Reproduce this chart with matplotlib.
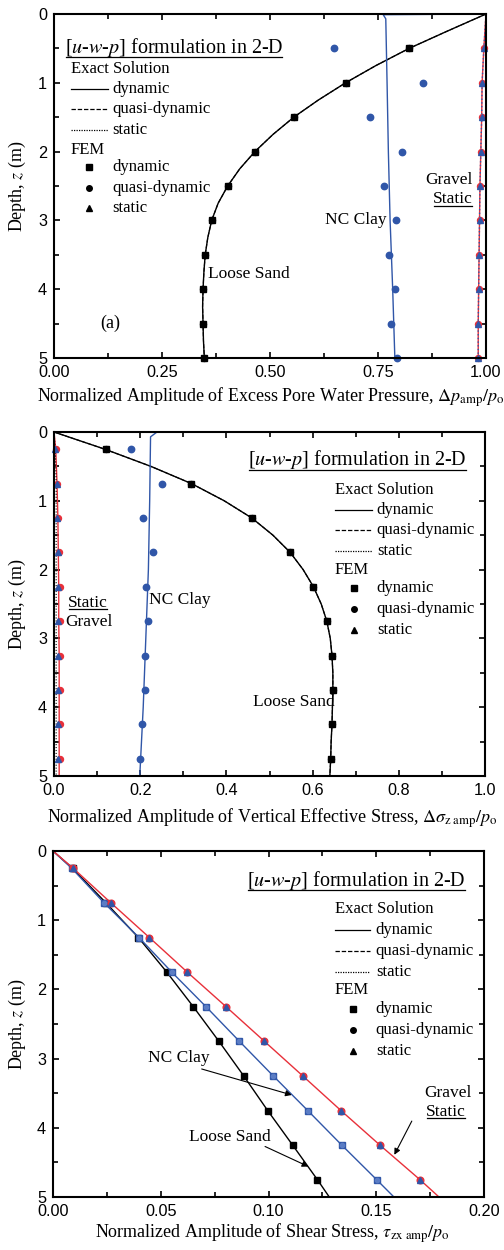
import matplotlib
matplotlib.use("Agg")
import matplotlib.pyplot as plt
from matplotlib.ticker import MultipleLocator, FixedLocator
from matplotlib.lines import Line2D
from matplotlib.transforms import IdentityTransform

plt.rcParams['font.family'] = ['Liberation Serif', 'DejaVu Serif']
plt.rcParams['mathtext.fontset'] = 'stix'

BLUE = '#3056a8'
RED = '#e8303a'
SERIF = ['Liberation Serif', 'DejaVu Serif']
SANS = ['Liberation Sans', 'DejaVu Sans']

# ---------------- Panel (a): excess pore water pressure ----------------
pw_fem_z = [0.5, 1.0, 1.5, 2.0, 2.5, 3.0, 3.5, 4.0, 4.5, 5.0]
pw_sand_fem = [0.822, 0.675, 0.555, 0.465, 0.402, 0.365, 0.350, 0.345, 0.345, 0.348]
pw_clay_fem = [0.647, 0.855, 0.731, 0.806, 0.764, 0.791, 0.775, 0.789, 0.780, 0.795]
pw_gravel_fem = [0.995, 0.991, 0.990, 0.988, 0.986, 0.985, 0.984, 0.983, 0.982, 0.982]

pw_sand_z = [0, 0.25, 0.5, 0.75, 1.0, 1.25, 1.5, 1.75, 2.0, 2.25, 2.5, 2.75, 3.0,
             3.25, 3.5, 3.75, 4.0, 4.25, 4.5, 4.75, 5.0]
pw_sand_exact = [1.0, 0.91, 0.822, 0.745, 0.675, 0.612, 0.555, 0.507, 0.465, 0.430,
                 0.402, 0.380, 0.365, 0.356, 0.350, 0.347, 0.345, 0.344, 0.345, 0.346, 0.348]
pw_clay_z = [0, 0.01, 0.07, 1.0, 2.0, 3.0, 4.0, 5.0]
pw_clay_exact = [1.0, 0.762, 0.768, 0.771, 0.774, 0.778, 0.784, 0.789]
pw_gravel_z = [0, 0.5, 1.0, 1.5, 2.0, 2.5, 3.0, 3.5, 4.0, 4.5, 5.0]
pw_gravel_exact = [1.0, 0.995, 0.991, 0.990, 0.988, 0.986, 0.985, 0.984, 0.983, 0.982, 0.982]
pw_ticks = [0.0, 0.25, 0.5, 0.75, 1.0]
pw_ticklabels = ['0.00', '0.25', '0.50', '0.75', '1.00']

# ---------------- Panel (b): vertical effective stress ----------------
vs_fem_z = [0.25, 0.75, 1.25, 1.75, 2.25, 2.75, 3.25, 3.75, 4.25, 4.75]
vs_sand_fem = [0.121, 0.319, 0.459, 0.548, 0.602, 0.633, 0.644, 0.647, 0.645, 0.642]
vs_clay_fem = [0.178, 0.250, 0.206, 0.229, 0.213, 0.219, 0.211, 0.210, 0.205, 0.1995]
vs_gravel_fem_circ = [0.004, 0.007, 0.010, 0.012, 0.013, 0.013, 0.014, 0.014, 0.014, 0.014]
vs_gravel_fem_tri = [0.003, 0.006, 0.008, 0.009, 0.009, 0.009, 0.009, 0.009, 0.009, 0.009]

vs_sand_z = [0, 0.25, 0.5, 0.75, 1.0, 1.25, 1.5, 1.75, 2.0, 2.25, 2.5, 2.75, 3.0,
             3.25, 3.5, 3.75, 4.0, 4.25, 4.5, 4.75, 5.0]
vs_sand_exact = [0.0, 0.118, 0.225, 0.319, 0.395, 0.459, 0.508, 0.548, 0.578, 0.602,
                 0.620, 0.633, 0.641, 0.645, 0.647, 0.647, 0.646, 0.645, 0.643, 0.642, 0.640]
vs_clay_z = [0, 0.005, 0.07, 1.0, 2.0, 3.0, 4.0, 5.0]
vs_clay_exact = [0.0, 0.238, 0.224, 0.222, 0.219, 0.213, 0.207, 0.199]
vs_gravel_z = [0, 0.25, 0.75, 1.25, 1.75, 2.25, 2.75, 3.25, 3.75, 4.25, 4.75, 5.0]
vs_gravel_exact = [0.0, 0.004, 0.007, 0.009, 0.010, 0.011, 0.011, 0.012, 0.012, 0.012, 0.012, 0.012]
vs_gravel_static = [0.0, 0.003, 0.005, 0.005, 0.005, 0.005, 0.005, 0.005, 0.005, 0.005, 0.005, 0.005]
vs_ticks = [0.0, 0.2, 0.4, 0.6, 0.8, 1.0]
vs_ticklabels = ['0.0', '0.2', '0.4', '0.6', '0.8', '1.0']

# ---------------- Panel (c): shear stress ----------------
ss_fem_z = [0.25, 0.75, 1.25, 1.75, 2.25, 2.75, 3.25, 3.75, 4.25, 4.75]
ss_sand_fem = [0.0091, 0.0246, 0.0396, 0.0528, 0.0651, 0.0770, 0.0885, 0.0996, 0.1112, 0.1227]
ss_clay_fem = [0.0087, 0.0237, 0.0399, 0.0551, 0.0710, 0.0865, 0.1022, 0.1182, 0.1340, 0.1502]
ss_gravel_fem = [0.0094, 0.0269, 0.0447, 0.0623, 0.0803, 0.0981, 0.1159, 0.1336, 0.1517, 0.1703]

ss_line_z = [0, 0.25, 0.75, 1.25, 1.75, 2.25, 2.75, 3.25, 3.75, 4.25, 4.75, 5.0]
ss_sand_exact = [0.0, 0.0091, 0.0246, 0.0396, 0.0528, 0.0651, 0.0770, 0.0885, 0.0996, 0.1112, 0.1227, 0.1282]
ss_clay_exact = [0.0, 0.0087, 0.0237, 0.0399, 0.0551, 0.0710, 0.0865, 0.1022, 0.1182, 0.1340, 0.1502, 0.1582]
ss_gravel_exact = [0.0, 0.0094, 0.0269, 0.0447, 0.0623, 0.0803, 0.0981, 0.1159, 0.1336, 0.1517, 0.1703, 0.1791]
ss_ticks = [0.0, 0.05, 0.10, 0.15, 0.20]
ss_ticklabels = ['0.00', '0.05', '0.10', '0.15', '0.20']

depth_ticks = [0, 1, 2, 3, 4, 5]
depth_ticklabels = ['0', '1', '2', '3', '4', '5']

W, H = 504, 1250
fig = plt.figure(figsize=(W / 100, H / 100), dpi=100)


def add_axes_px(x0, y0, x1, y1):
    return fig.add_axes([x0 / W, 1 - y1 / H, (x1 - x0) / W, (y1 - y0) / H])


ax1 = add_axes_px(54, 14, 486, 358)
ax2 = add_axes_px(54, 432, 485, 776)
ax3 = add_axes_px(53, 851, 484, 1197)

MS = 4.3
LW = 1.0

# panel a
ax = ax1
ax.plot(pw_sand_exact, pw_sand_z, '-', color='k', lw=LW)
ax.plot(pw_sand_exact, pw_sand_z, '--', color='k', lw=LW * 0.8)
ax.plot(pw_sand_fem, pw_fem_z, 'o', color='k', ms=MS, ls='none', clip_on=False)
ax.plot(pw_sand_fem, pw_fem_z, 's', color='k', ms=MS, ls='none', clip_on=False)
ax.plot(pw_clay_exact, pw_clay_z, '-', color=BLUE, lw=LW)
ax.plot(pw_clay_fem, pw_fem_z, 'o', color=BLUE, ms=MS + 0.3, ls='none', clip_on=False)
ax.plot(pw_gravel_exact, pw_gravel_z, '-', color=RED, lw=LW)
ax.plot(pw_gravel_exact, pw_gravel_z, ':', color=BLUE, lw=LW)
ax.plot(pw_gravel_fem, pw_fem_z, 'o', color=RED, ms=MS, ls='none', clip_on=False)
ax.plot(pw_gravel_fem, pw_fem_z, '^', color=BLUE, ms=MS, ls='none', clip_on=False)
ax.set_xlim(0, 1)
ax.set_xticks(pw_ticks)
ax.set_xticklabels(pw_ticklabels)
ax.xaxis.set_minor_locator(MultipleLocator(0.125))

# panel b
ax = ax2
ax.plot(vs_sand_exact, vs_sand_z, '-', color='k', lw=LW)
ax.plot(vs_sand_exact, vs_sand_z, '--', color='k', lw=LW * 0.8)
ax.plot(vs_sand_fem, vs_fem_z, 'o', color='k', ms=MS, ls='none')
ax.plot(vs_sand_fem, vs_fem_z, 's', color='k', ms=MS, ls='none')
ax.plot(vs_clay_exact, vs_clay_z, '-', color=BLUE, lw=LW)
ax.plot(vs_clay_fem, vs_fem_z, 'o', color=BLUE, ms=MS + 0.3, ls='none')
ax.plot(vs_gravel_exact, vs_gravel_z, '-', color=RED, lw=LW)
ax.plot(vs_gravel_static, vs_gravel_z, ':', color='k', lw=LW * 0.8)
ax.plot(vs_gravel_fem_circ, vs_fem_z, 'o', color=RED, ms=MS, ls='none', clip_on=False)
ax.plot(vs_gravel_fem_tri, vs_fem_z, '^', color=BLUE, ms=MS, ls='none', clip_on=False)
ax.set_xlim(0, 1)
ax.set_xticks(vs_ticks)
ax.set_xticklabels(vs_ticklabels)
ax.xaxis.set_minor_locator(MultipleLocator(0.1))

# panel c
ax = ax3
ax.plot(ss_sand_exact, ss_line_z, '-', color='k', lw=LW)
ax.plot(ss_sand_fem, ss_fem_z, 's', color='k', ms=MS, ls='none')
ax.plot(ss_clay_exact, ss_line_z, '-', color=BLUE, lw=LW)
ax.plot(ss_clay_fem, ss_fem_z, 's', color=BLUE, ms=MS + 0.3, ls='none')
ax.plot(ss_clay_fem, ss_fem_z, 'o', color='#5a7cc4', ms=MS - 1.2, ls='none')
ax.plot(ss_gravel_exact, ss_line_z, '-', color=RED, lw=LW)
ax.plot(ss_gravel_fem, ss_fem_z, 'o', color=RED, ms=MS + 0.5, ls='none')
ax.plot(ss_gravel_fem, ss_fem_z, '^', color=BLUE, ms=MS - 0.3, ls='none')
ax.set_xlim(0, 0.2)
ax.set_xticks(ss_ticks)
ax.set_xticklabels(ss_ticklabels)
ax.xaxis.set_minor_locator(MultipleLocator(0.025))

for ax in (ax1, ax2, ax3):
    ax.set_ylim(5, 0)
    ax.set_yticks(depth_ticks)
    ax.set_yticklabels(depth_ticklabels)
    ax.yaxis.set_minor_locator(MultipleLocator(0.5))
    ax.tick_params(which='both', direction='in', top=True, right=True, width=1.2,
                   labelsize=11.7, pad=5)
    ax.tick_params(which='major', length=4.5)
    ax.tick_params(which='minor', length=3.8)
    for lab in ax.get_xticklabels() + ax.get_yticklabels():
        lab.set_fontfamily(SANS)
    for s in ax.spines.values():
        s.set_linewidth(1.5)

TITLE = r'[$\mathit{u}$-$\mathit{w}$-$\mathit{p}$] formulation in 2-D'
underlined = []


def legend_block(ax, tx, ty, ex, line_x0, line_x1, text_x, line_ys, fem_y, mark_x, mark_ys):
    t = ax.text(tx, ty, TITLE, transform=ax.transAxes, fontsize=14.5, va='center', ha='left')
    underlined.append(t)
    ax.text(ex, line_ys[0] + (line_ys[0] - line_ys[1]), 'Exact Solution', transform=ax.transAxes,
            fontsize=12, va='center', ha='left')
    for ls, yy, lab in zip(['-', (0, (3.5, 1.5)), (0, (1, 1))], line_ys,
                           ['dynamic', 'quasi-dynamic', 'static']):
        ax.add_line(Line2D([line_x0, line_x1], [yy, yy], transform=ax.transAxes,
                           color='k', lw=0.9, ls=ls))
        ax.text(text_x, yy, lab, transform=ax.transAxes, fontsize=12, va='center', ha='left')
    ax.text(ex, fem_y, 'FEM', transform=ax.transAxes, fontsize=12, va='center', ha='left')
    for mk, yy, lab in zip(['s', 'o', '^'], mark_ys, ['dynamic', 'quasi-dynamic', 'static']):
        ax.plot([mark_x], [yy], mk, color='k', ms=4, transform=ax.transAxes)
        ax.text(text_x, yy, lab, transform=ax.transAxes, fontsize=12, va='center', ha='left')


legend_block(ax1, 0.025, 0.904, 0.039, 0.039, 0.125, 0.134,
             [0.782, 0.724, 0.663], 0.605, 0.081, [0.555, 0.494, 0.436])
legend_block(ax2, 0.450, 0.919, 0.652, 0.652, 0.738, 0.749,
             [0.773, 0.715, 0.654], 0.599, 0.696, [0.547, 0.485, 0.424])
legend_block(ax3, 0.450, 0.916, 0.654, 0.654, 0.735, 0.749,
             [0.772, 0.711, 0.650], 0.598, 0.696, [0.543, 0.483, 0.422])

FS = 12.5
# panel a labels
ax1.text(0.13, 0.102, '(a)', transform=ax1.transAxes, fontsize=13, ha='center', va='center')
ax1.text(0.356, 0.244, 'Loose Sand', transform=ax1.transAxes, fontsize=FS, va='center')
ax1.text(0.769, 0.401, 'NC Clay', transform=ax1.transAxes, fontsize=FS, va='center', ha='right')
ax1.text(0.968, 0.517, 'Gravel', transform=ax1.transAxes, fontsize=FS, va='center', ha='right')
underlined.append(ax1.text(0.970, 0.462, 'Static', transform=ax1.transAxes, fontsize=FS,
                           va='center', ha='right'))

# panel b labels
underlined.append(ax2.text(0.032, 0.503, 'Static', transform=ax2.transAxes, fontsize=FS, va='center'))
ax2.text(0.026, 0.448, 'Gravel', transform=ax2.transAxes, fontsize=FS, va='center')
ax2.text(0.220, 0.512, 'NC Clay', transform=ax2.transAxes, fontsize=FS, va='center')
ax2.text(0.462, 0.215, 'Loose Sand', transform=ax2.transAxes, fontsize=FS, va='center')

# panel c labels with arrows
arrow = dict(arrowstyle='-|>', color='k', lw=0.8, mutation_scale=9, shrinkA=0, shrinkB=0)
ax3.text(0.220, 0.402, 'NC Clay', transform=ax3.transAxes, fontsize=FS, va='center')
ax3.annotate('', xy=(0.1108, 3.526), xytext=(0.069, 3.15), arrowprops=arrow)
ax3.text(0.316, 0.173, 'Loose Sand', transform=ax3.transAxes, fontsize=FS, va='center')
ax3.annotate('', xy=(0.1185, 4.56), xytext=(0.0984, 4.27), arrowprops=arrow)
ax3.text(0.972, 0.301, 'Gravel', transform=ax3.transAxes, fontsize=FS, va='center', ha='right')
underlined.append(ax3.text(0.958, 0.246, 'Static', transform=ax3.transAxes, fontsize=FS,
                           va='center', ha='right'))
ax3.annotate('', xy=(0.1584, 4.39), xytext=(0.1665, 3.903), arrowprops=arrow)

# axis labels
for yc in ((14 + 358) / 2, (432 + 776) / 2, (851 + 1197) / 2):
    fig.text(17 / W, 1 - yc / H, r'Depth, $\mathit{z}$ (m)', rotation=90, fontsize=13,
             ha='center', va='center')
fig.text(37 / W, 1 - 397 / H,
         r'Normalized Amplitude of Excess Pore Water Pressure, $\mathit{\Delta p}_{\mathrm{amp}}/\mathit{p}_{\mathrm{o}}$',
         fontsize=13, ha='left', va='center')
fig.text(47 / W, 1 - 818 / H,
         r'Normalized Amplitude of Vertical Effective Stress, $\mathit{\Delta\sigma}_{\mathrm{z\ amp}}/\mathit{p}_{\mathrm{o}}$',
         fontsize=13, ha='left', va='center')
fig.text(95 / W, 1 - 1233 / H,
         r'Normalized Amplitude of Shear Stress, $\tau_{\mathrm{zx\ amp}}/\mathit{p}_{\mathrm{o}}$',
         fontsize=13, ha='left', va='center')

# underlines
fig.canvas.draw()
r = fig.canvas.get_renderer()
for t in underlined:
    bb = t.get_window_extent(renderer=r)
    fig.add_artist(Line2D([bb.x0 + 1, bb.x1 - 1], [bb.y0 + 1.5, bb.y0 + 1.5],
                          transform=IdentityTransform(), color='k', lw=0.9))

fig.savefig('out.png', dpi=100)
